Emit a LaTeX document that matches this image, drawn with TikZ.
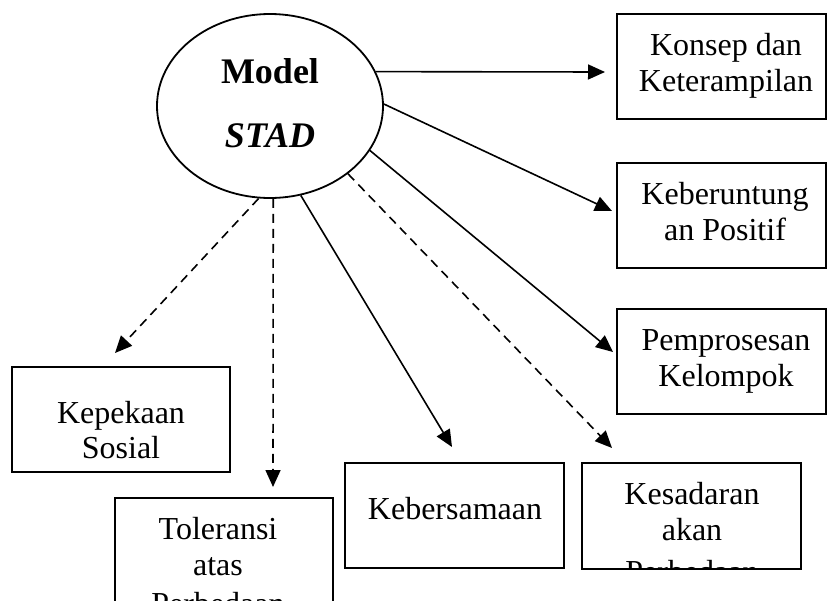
\documentclass[tikz,border=0pt]{standalone}
\usepackage{fontspec}
\setmainfont{Liberation Serif}
\usetikzlibrary{shapes.geometric,arrows.meta}
\begin{document}
\begin{tikzpicture}[x=1pt,y=-1pt,
 box/.style={draw,line width=1.8pt,rectangle,inner sep=0pt,minimum height=105pt},
 txt/.style={anchor=base,inner sep=0pt,font=\fontsize{32}{36}\selectfont},
 ttl/.style={anchor=base,inner sep=0pt,font=\fontsize{36}{40}\selectfont\bfseries},
 conn/.style={line width=1.6pt,-{Triangle[length=17pt,width=15pt]}},
 dconn/.style={conn,dash pattern=on 9pt off 6pt}]
\useasboundingbox (0,0) rectangle (827,600);
% central ellipse
\node[draw,ellipse,line width=1.8pt,inner sep=0pt,minimum width=226pt,minimum height=184pt] (m) at (270,106) {};
\node[ttl] (mt1) at (270,83) {Model};
\node[ttl,font=\fontsize{36}{40}\selectfont\bfseries\itshape] (mt2) at (270,147) {STAD};
% boxes
\node[box,minimum width=209pt] (b1) at (721.5,66.5) {};
\node[box,minimum width=209pt] (b2) at (721.5,215.5) {};
\node[box,minimum width=209pt] (b3) at (721.5,361.5) {};
\node[box,minimum width=218pt] (b4) at (121,419.5) {};
\node[box,minimum width=218pt] (b5) at (224,550.5) {};
\node[box,minimum width=219pt] (b6) at (454.5,515.5) {};
\node[box,minimum width=219pt,minimum height=106pt] (b7) at (691.5,516) {};
% texts
\node[txt] (l1a) at (726,55) {Konsep dan};
\node[txt] (l1b) at (726,91) {Keterampilan};
\node[txt] (l2a) at (725,204) {Keberuntung};
\node[txt] (l2b) at (725,240) {an Positif};
\node[txt] (l3a) at (726,350) {Pemprosesan};
\node[txt] (l3b) at (726,386) {Kelompok};
\node[txt] (l4a) at (121,423) {Kepekaan};
\node[txt] (l4b) at (121,458) {Sosial};
\node[txt] (l5a) at (218,539) {Toleransi};
\node[txt] (l5b) at (218,575) {atas};
\node[txt] (l5c) at (218,614) {Perbedaan};
\node[txt] (l6a) at (455,519) {Kebersamaan};
\node[txt] (l7a) at (692,504) {Kesadaran};
\node[txt] (l7b) at (692,540) {akan};
\begin{scope}
\clip (583,464) rectangle (800,567);
\node[txt] (l7c) at (692,582) {Perbedaan};
\end{scope}
% arrow tips
\coordinate (t1) at (605,72);
\coordinate (t2) at (612,211);
\coordinate (t3) at (613,352);
\coordinate (t4) at (612,448);
\coordinate (t5) at (452,447);
\coordinate (t6) at (273,487);
\coordinate (t7) at (115,353);
% connectors
\draw[conn] (m.18.6) -- (t1);
\draw[conn] (m.1.5) -- (t2);
\draw[conn] (m.-24.7) -- (t3);
\draw[dconn] (m.-41) -- (t4);
\draw[conn] (m.-71.4) -- (t5);
\draw[dconn] (m.-88.1) -- (t6);
\draw[dconn] (m.-97.4) -- (t7);
\end{tikzpicture}
\end{document}
